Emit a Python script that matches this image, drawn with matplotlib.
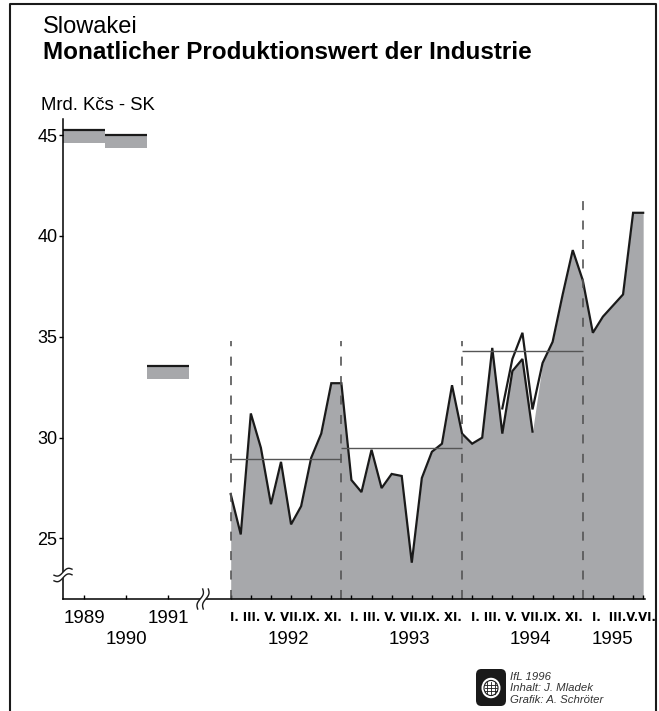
import numpy as np
import matplotlib.pyplot as plt
from matplotlib.lines import Line2D
from matplotlib.patches import Polygon, Circle, FancyBboxPatch

plt.rcParams['font.family'] = ['Liberation Sans', 'DejaVu Sans']
plt.rcParams['lines.scale_dashes'] = False

W_PX, H_PX = 659, 711

# annual values 1989-1991 (Mrd. Kcs)
years = ['1989', '1990', '1991']
year_top = [45.25, 45.03, 33.55]
year_low = [44.62, 44.37, 32.92]

# monthly values from I.1992, old series up to VII.1994
monthly = [27.2, 25.2, 31.2, 29.5, 26.7, 28.8, 25.7, 26.6, 29.0, 30.2, 32.7, 32.7,   # 1992
           27.9, 27.3, 29.4, 27.5, 28.2, 28.1, 23.8, 28.0, 29.3, 29.7, 32.6, 30.2,    # 1993
           29.7, 30.0, 34.45, 30.2, 33.3, 33.9, 30.3]                                 # 1994 I-VII
# revised series from IV.1994 to VI.1995
revised = [31.45, 33.9, 35.2, 31.4, 33.7, 34.75, 37.1, 39.3, 37.8,                    # 1994 IV-XII
           35.2, 36.0, 36.55, 37.1, 41.15, 41.15]                                     # 1995 I-VI
revised_start = 27

# yearly averages 1992-1994 and year separators
year_avg = [28.95, 29.5, 34.3]
avg_span = [(0, 11), (11, 23), (23, 35)]
sep_months = [0, 11, 23, 35]
sep_top = [34.8, 34.8, 34.8, 42.0]

month_labels = ['I. III. V. VII.IX. XI.', 'I. III. V. VII.IX. XI.',
                'I. III. V. VII.IX. XI.', 'I.  III.V.VI.']
month_years = ['1992', '1993', '1994', '1995']

GRAY = '#a7a8ab'
DARK = '#1a1a1a'


def fx(px):
    return px / W_PX


def fy(py):
    return 1 - py / H_PX


fig = plt.figure(figsize=(6.59, 7.11), dpi=100)

# x axis in months from I.1992, 10.06 px per month
px_month = 10.06
x0 = 230.7
xmin = -(x0 - 63) / px_month
xmax = 41.2
yw = 42 / px_month
ax = fig.add_axes([fx(63), fy(599), (px_month * (xmax - xmin)) / W_PX, (599 - 119) / H_PX])
ax.set_xlim(xmin, xmax)
ax.set_ylim(22, 45.8)

# annual bars
lefts = [xmin + i * yw for i in range(len(years))]
ax.bar(lefts, np.array(year_top) - np.array(year_low), bottom=year_low, width=yw,
       align='edge', color=GRAY, linewidth=0)
ax.hlines(year_top, lefts, np.array(lefts) + yw, color=DARK, lw=1.6)

# monthly area
n_all = revised_start + len(revised)
m_all = np.arange(n_all)
combined = np.array(monthly + revised[len(monthly) - revised_start:])
ax.fill_between(m_all, 22, combined, color=GRAY, linewidth=0)
ax.plot(np.arange(len(monthly)), monthly, color=DARK, lw=1.6, solid_joinstyle='miter')
ax.plot(np.arange(revised_start, n_all), revised, color=DARK, lw=1.6, solid_joinstyle='miter')

# averages and separators
for avg, (a, b) in zip(year_avg, avg_span):
    ax.hlines(avg, a, b, color='#555555', lw=1.0)
for m, top in zip(sep_months, sep_top):
    ax.vlines(m, 22, top, color='#555555', lw=1.2, linestyles=(0, (6.5, 7.5)))

# spines and ticks
for s in ['top', 'right']:
    ax.spines[s].set_visible(False)
for s in ['left', 'bottom']:
    ax.spines[s].set_linewidth(1.1)
ax.set_yticks([25, 30, 35, 40, 45])
ax.tick_params(axis='y', direction='out', length=3, width=1, pad=1, labelsize=13)
year_centers = [l + yw / 2 for l in lefts]
month_ticks = [m for m in range(0, 36, 2)] + [36, 38, 40, 41]
ax.set_xticks(year_centers + month_ticks)
ax.set_xticklabels([])
ax.tick_params(axis='x', direction='in', length=3, width=1)


# x labels
def xlabel(x, s, dy, **kw):
    ax.annotate(s, xy=(x, 0), xycoords=('data', 'axes fraction'), xytext=(0, -dy),
                textcoords='offset points', va='center', **kw)


for i, y in enumerate(years):
    xlabel(year_centers[i], y, 13.7 if i != 1 else 29.3, ha='center', fontsize=13.5)
for i, (lab, yr) in enumerate(zip(month_labels, month_years)):
    xlabel(12 * i - 0.1, lab, 13.5, ha='left', fontsize=8.4, family='DejaVu Sans',
           fontweight='bold')
    xlabel(12 * i + (5.75 if i < 3 else 1.9), yr, 29.3, ha='center', fontsize=13.5)

# titles
fig.text(fx(43), fy(33.3), 'Slowakei', fontsize=17, va='baseline')
fig.text(fx(43), fy(59.3), 'Monatlicher Produktionswert der Industrie', fontsize=17.5,
         fontweight='bold', va='baseline')
fig.text(fx(41), fy(110), 'Mrd. Kčs - SK', fontsize=13.3, va='baseline')

# frame
fig.add_artist(Line2D([fx(10), fx(10), fx(656), fx(656)], [fy(711), fy(4.3), fy(4.3), fy(711)],
                      color=DARK, lw=1.5, transform=fig.transFigure))


# axis break marks
def squiggle(cx, cy, vertical):
    t = np.linspace(0, 1, 40)
    strokes = []
    for d in (-2.8, 2.8):
        if vertical:
            xs = cx + d + 5 * (0.5 - t) + 1.8 * np.sin(2 * np.pi * t)
            ys = cy - 10 + 20 * t
        else:
            xs = cx - 9 + 18 * t
            ys = cy + d - 6 * (t - 0.5) + 2.2 * np.sin(2 * np.pi * t)
        strokes.append((xs, ys))
    (x1, y1), (x2, y2) = strokes
    poly = np.column_stack([np.r_[x1, x2[::-1]], np.r_[y1, y2[::-1]]])
    fig.add_artist(Polygon(np.column_stack([fx(poly[:, 0]), fy(poly[:, 1])]),
                           closed=True, facecolor='white', edgecolor='none',
                           transform=fig.transFigure))
    for xs, ys in strokes:
        fig.add_artist(Line2D(fx(xs), fy(ys), color=DARK, lw=1.0, transform=fig.transFigure))


squiggle(63, 575, vertical=False)
squiggle(203, 599, vertical=True)

# logo and credits
fig.add_artist(FancyBboxPatch((fx(476), fy(706)), fx(30), 37 / H_PX,
                              boxstyle='round,pad=0,rounding_size=0.008',
                              facecolor=DARK, edgecolor='none', transform=fig.transFigure))
fig.add_artist(Circle((fx(491), fy(688)), 9.5 / W_PX, facecolor='white', edgecolor='none',
                      transform=fig.transFigure))
fig.add_artist(Circle((fx(491), fy(688)), 7 / W_PX, facecolor='none', edgecolor=DARK, lw=0.8,
                      transform=fig.transFigure))
for dx in (-3.5, 0, 3.5):
    fig.add_artist(Line2D([fx(491 + dx)] * 2, [fy(682), fy(694)], color=DARK, lw=0.6,
                          transform=fig.transFigure))
for dyy in (-3, 0, 3):
    fig.add_artist(Line2D([fx(485), fx(497)], [fy(688 + dyy)] * 2, color=DARK, lw=0.6,
                          transform=fig.transFigure))
for i, s in enumerate(['IfL 1996', 'Inhalt: J. Mladek', 'Grafik: A. Schröter']):
    fig.text(fx(510), fy(679.5 + 11.7 * i), s, fontsize=8.2, style='italic', color='#333333',
             va='baseline')

fig.savefig('out.png', dpi=100)
